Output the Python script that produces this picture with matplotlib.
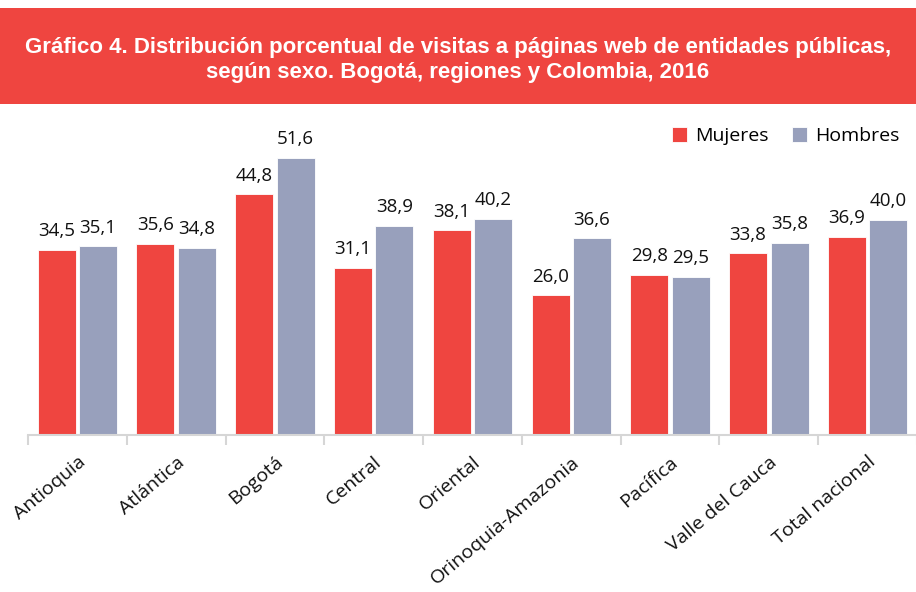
import matplotlib
matplotlib.use('Agg')
import matplotlib.pyplot as plt
import matplotlib.patches as mpatches
import numpy as np

# ── Data ──────────────────────────────────────────────────────────────
regions = ['Antioquia', 'Atlántica', 'Bogotá', 'Central', 'Oriental',
           'Orinoquia-Amazonia', 'Pacífica', 'Valle del Cauca', 'Total nacional']
mujeres = [34.5, 35.6, 44.8, 31.1, 38.1, 26.0, 29.8, 33.8, 36.9]
hombres = [35.1, 34.8, 51.6, 38.9, 40.2, 36.6, 29.5, 35.8, 40.0]
series_names = ['Mujeres', 'Hombres']

title = ('Gráfico 4. Distribución porcentual de visitas a páginas web de entidades públicas,\n'
         'según sexo. Bogotá, regiones y Colombia, 2016')

RED  = '#EF4540'
GREY = '#98A0BC'
FONT = ['Open Sans', 'DejaVu Sans']

W, H = 916, 592
fig = plt.figure(figsize=(W / 100, H / 100), dpi=100, facecolor='white')

# ── Title banner ──────────────────────────────────────────────────────
fig.patches.append(mpatches.Rectangle((0.0, 1 - 104 / H), 1.0, 96 / H,
                                      transform=fig.transFigure,
                                      facecolor=RED, edgecolor='none'))
fig.text(0.5, 1 - 60 / H, title, ha='center', va='center', color='white',
         fontsize=16, fontweight='bold', linespacing=1.3,
         family=['Liberation Sans', 'DejaVu Sans'])

# ── Bars ──────────────────────────────────────────────────────────────
ax = fig.add_axes([28 / W, 1 - 435 / H, 889 / W, 310 / H])
x = np.arange(len(regions))
bw, off = 0.385, 0.21

b1 = ax.bar(x - off, mujeres, bw, color=RED, edgecolor='white', lw=0.6, label=series_names[0])
b2 = ax.bar(x + off, hombres, bw, color=GREY, edgecolor='white', lw=0.6, label=series_names[1])

for bars, vals in [(b1, mujeres), (b2, hombres)]:
    for bar, v in zip(bars, vals):
        ax.text(bar.get_x() + bar.get_width() / 2, v + 1.8,
                f'{v:.1f}'.replace('.', ','), ha='center', va='bottom',
                fontsize=13.5, color='#111', family=FONT)

ax.set_xlim(-0.5, len(regions) - 0.5)
ax.set_ylim(0, 57.7)
ax.set_yticks([])
for s in ['top', 'right', 'left']:
    ax.spines[s].set_visible(False)
ax.spines['bottom'].set_color('#d6d6d6')
ax.spines['bottom'].set_linewidth(1.5)

ax.set_xticks(x)
ax.set_xticklabels(regions, rotation=40, ha='right', rotation_mode='anchor',
                   fontsize=14, family=FONT, color='#111')
ax.tick_params(axis='x', which='major', length=0, pad=13)
ax.set_xticks(np.arange(len(regions) + 1) - 0.5, minor=True)
ax.tick_params(axis='x', which='minor', length=7, width=1.5, color='#d6d6d6')

leg = ax.legend(loc='upper right', bbox_to_anchor=(1.0, 1.05), ncol=2, frameon=False,
                prop={'family': FONT, 'size': 14}, handlelength=0.8, handleheight=0.8,
                handletextpad=0.4, columnspacing=1.2)

plt.savefig('out.png', dpi=100, facecolor='white')
